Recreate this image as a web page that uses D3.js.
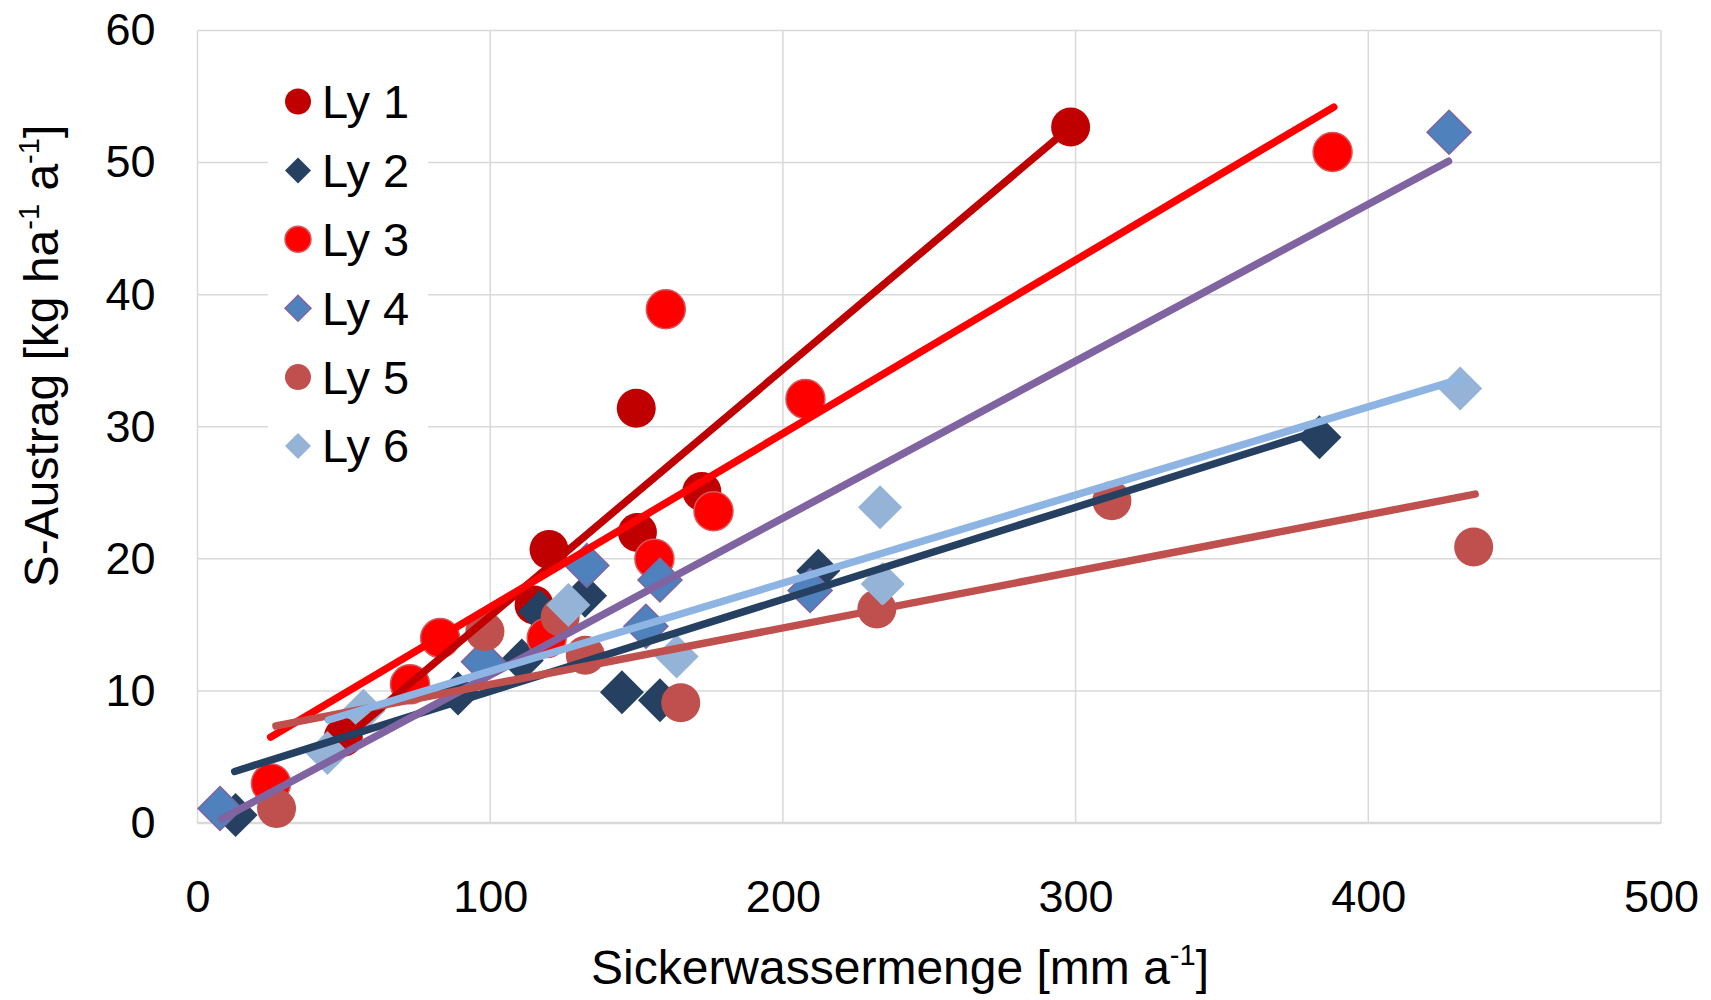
<!DOCTYPE html>
<html>
<head>
<meta charset="utf-8">
<script src="https://cdn.jsdelivr.net/npm/d3@7"></script>
<style>
  body { margin: 0; background: #fff; }
  svg { display: block; font-family: "Liberation Sans", Arial, sans-serif; }
</style>
</head>
<body>
<div id="chart"></div>
<script>
// series names and values
const seriesNames = ["Ly 1", "Ly 2", "Ly 3", "Ly 4", "Ly 5", "Ly 6"];

const ly1X = [298.3, 149.9, 172.3, 150.3, 120.1, 115.0, 49.8];
const ly1Y = [52.7, 31.4, 25.1, 22.0, 20.7, 16.5, 6.5];

const ly2X = [13.0, 89.0, 110.8, 117.0, 132.4, 145.0, 158.0, 212.1, 383.3];
const ly2Y = [0.6, 9.8, 12.3, 16.0, 17.2, 9.9, 9.3, 19.1, 29.2];

const ly3X = [387.8, 160.0, 207.7, 176.3, 156.1, 119.3, 82.9, 72.6, 25.1];
const ly3Y = [50.8, 38.9, 32.1, 23.6, 20.0, 14.0, 14.0, 10.5, 3.0];

const ly4X = [7.7, 97.7, 133.0, 158.0, 153.2, 209.3, 427.6];
const ly4Y = [1.1, 12.2, 19.5, 18.4, 14.9, 17.6, 52.3];

const ly5X = [27.0, 98.2, 123.9, 132.5, 165.1, 232.1, 312.4, 436.0];
const ly5Y = [1.1, 14.5, 15.6, 12.7, 9.1, 16.2, 24.4, 20.9];

const ly6X = [44.4, 56.7, 126.7, 163.7, 233.2, 234.1, 431.4];
const ly6Y = [5.3, 8.5, 16.5, 12.6, 23.9, 18.1, 32.9];

// linear trend lines, [x, y] at both ends
const trendStart = [[49.8, 6.3], [12.7, 3.9], [25.0, 6.5], [8.2, 0.3], [26.8, 7.35], [44.7, 7.8]];
const trendEnd = [[298.3, 52.7], [383.3, 29.7], [388.2, 54.2], [427.4, 50.1], [436.5, 24.9], [431.4, 33.6]];

const xTicks = [0, 100, 200, 300, 400, 500];
const yTicks = [0, 10, 20, 30, 40, 50, 60];

const styles = [
    {shape: "circle", fill: "#C00000", stroke: "none", line: "#C00000"},
    {shape: "diamond", fill: "#254061", stroke: "none", line: "#254061"},
    {shape: "circle", fill: "#FF0000", stroke: "#D9575A", line: "#FF0000"},
    {shape: "diamond", fill: "#4F81BD", stroke: "#8064A2", line: "#8064A2"},
    {shape: "circle", fill: "#C0504D", stroke: "none", line: "#C0504D"},
    {shape: "diamond", fill: "#95B3D7", stroke: "none", line: "#8DB4E2"}
];

const xs = [ly1X, ly2X, ly3X, ly4X, ly5X, ly6X];
const ys = [ly1Y, ly2Y, ly3Y, ly4Y, ly5Y, ly6Y];
const series = seriesNames.map((name, i) => ({
    name: name,
    style: styles[i],
    points: xs[i].map((x, j) => ({x: x, y: ys[i][j]})),
    trend: [trendStart[i], trendEnd[i]]
}));

const size = {width: 1711, height: 1000};
const margin = {top: 30.5, right: 50, bottom: 177, left: 197.5};
const width = size.width - margin.left - margin.right;
const height = size.height - margin.top - margin.bottom;

const svg = d3.select("#chart").append("svg")
    .attr("width", size.width)
    .attr("height", size.height);

const g = svg.append("g")
    .attr("transform", "translate(" + margin.left + "," + margin.top + ")");

const xScale = d3.scaleLinear().domain([0, 500]).range([0, width]);
const yScale = d3.scaleLinear().domain([0, 60]).range([height, 0]);

// gridlines
g.append("g").attr("class", "gridX")
    .selectAll("line").data(xTicks).join("line")
    .attr("x1", d => xScale(d)).attr("x2", d => xScale(d))
    .attr("y1", 0).attr("y2", height)
    .attr("stroke", "#D9D9D9").attr("stroke-width", 1.5);

g.append("g").attr("class", "gridY")
    .selectAll("line").data(yTicks).join("line")
    .attr("x1", 0).attr("x2", width)
    .attr("y1", d => yScale(d)).attr("y2", d => yScale(d))
    .attr("stroke", "#D9D9D9").attr("stroke-width", d => d === 0 ? 2.5 : 1.5);

// axes (labels only)
const xAxis = g.append("g")
    .attr("transform", "translate(0," + height + ")")
    .call(d3.axisBottom(xScale).tickValues(xTicks).tickSize(0).tickPadding(57));
const yAxis = g.append("g")
    .call(d3.axisLeft(yScale).tickValues(yTicks).tickSize(0).tickPadding(42));
[xAxis, yAxis].forEach(ax => {
    ax.select(".domain").remove();
    ax.selectAll("text")
        .attr("font-family", "\"Liberation Sans\", Arial, sans-serif")
        .attr("font-size", 45)
        .attr("fill", "#000");
});

const diamond = r => "M0," + (-r) + "L" + r + ",0L0," + r + "L" + (-r) + ",0Z";

// markers
series.forEach(s => {
    const sg = g.append("g").attr("class", "markerG");
    if (s.style.shape === "circle") {
        sg.selectAll("circle").data(s.points).join("circle")
            .attr("cx", d => xScale(d.x))
            .attr("cy", d => yScale(d.y))
            .attr("r", 19.5)
            .attr("fill", s.style.fill)
            .attr("stroke", s.style.stroke)
            .attr("stroke-width", 1.5);
    } else {
        sg.selectAll("path").data(s.points).join("path")
            .attr("transform", d => "translate(" + xScale(d.x) + "," + yScale(d.y) + ")")
            .attr("d", diamond(22))
            .attr("fill", s.style.fill)
            .attr("stroke", s.style.stroke)
            .attr("stroke-width", 1.5);
    }
});

// trend lines on top of all markers
const line = d3.line().x(d => xScale(d[0])).y(d => yScale(d[1]));
series.forEach(s => {
    g.append("path")
        .attr("d", line(s.trend))
        .attr("fill", "none")
        .attr("stroke", s.style.line)
        .attr("stroke-width", 7.5)
        .attr("stroke-linecap", "round");
});

// legend
const legendG = svg.append("g").attr("class", "legend");
legendG.append("rect")
    .attr("x", 268).attr("y", 67)
    .attr("width", 160).attr("height", 414)
    .attr("fill", "#fff");
series.forEach((s, i) => {
    const ly = 101.5 + i * 68.9;
    if (s.style.shape === "circle") {
        legendG.append("circle")
            .attr("cx", 298).attr("cy", ly).attr("r", 13)
            .attr("fill", s.style.fill)
            .attr("stroke", s.style.stroke)
            .attr("stroke-width", 1.5);
    } else {
        legendG.append("path")
            .attr("transform", "translate(298," + ly + ")")
            .attr("d", diamond(13))
            .attr("fill", s.style.fill)
            .attr("stroke", s.style.stroke)
            .attr("stroke-width", 1.5);
    }
    legendG.append("text")
        .attr("x", 322).attr("y", ly)
        .attr("dy", "0.35em")
        .attr("font-size", 47)
        .text(s.name);
});

// axis titles with superscripts
const xTitle = svg.append("text")
    .attr("x", 900).attr("y", 984)
    .attr("text-anchor", "middle")
    .attr("font-size", 48);
xTitle.append("tspan").text("Sickerwassermenge [mm a");
xTitle.append("tspan").attr("font-size", 29).attr("dy", -19).text("-1");
xTitle.append("tspan").attr("dy", 19).text("]");

const yTitle = svg.append("text")
    .attr("transform", "translate(58,356) rotate(-90)")
    .attr("text-anchor", "middle")
    .attr("font-size", 48);
yTitle.append("tspan").text("S-Austrag [kg ha");
yTitle.append("tspan").attr("font-size", 29).attr("dy", -19).text("-1");
yTitle.append("tspan").attr("dy", 19).text(" a");
yTitle.append("tspan").attr("font-size", 29).attr("dy", -19).text("-1");
yTitle.append("tspan").attr("dy", 19).text("]");
</script>
</body>
</html>
